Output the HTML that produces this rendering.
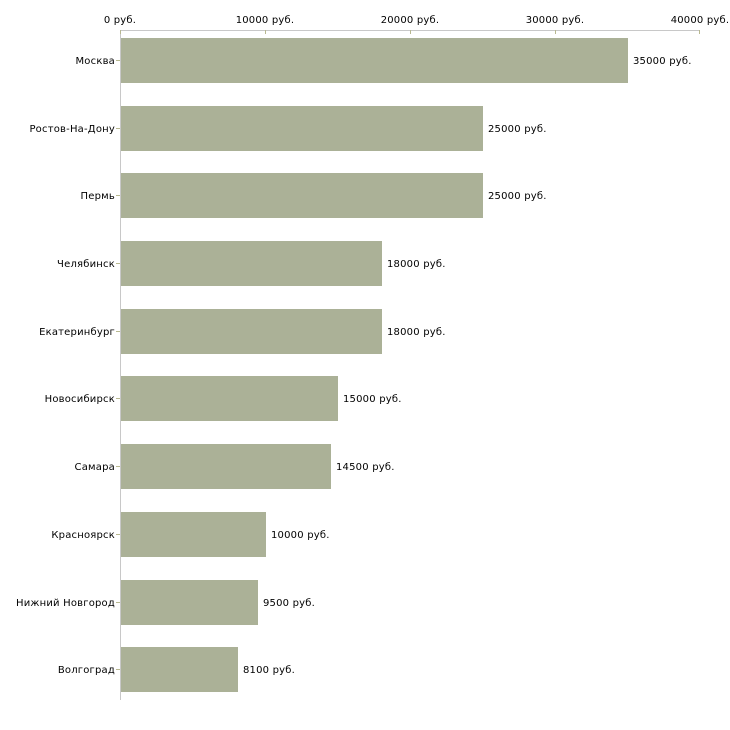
<!DOCTYPE html>
<html><head><meta charset="utf-8"><style>body{margin:0;background:#fff}svg{display:block}text{font-family:"DejaVu Sans","Liberation Sans",sans-serif;font-size:10px;fill:#000;letter-spacing:0.2px}</style></head><body>
<svg width="730" height="730" viewBox="0 0 730 730">
<line x1="120" y1="30.5" x2="700" y2="30.5" stroke="#c8c8c8"/>
<line x1="120.5" y1="30" x2="120.5" y2="700" stroke="#c8c8c8"/>
<g stroke="#b8b890">
<line x1="120.5" y1="30" x2="120.5" y2="34"/><line x1="265.5" y1="30" x2="265.5" y2="34"/><line x1="410.5" y1="30" x2="410.5" y2="34"/><line x1="555.5" y1="30" x2="555.5" y2="34"/><line x1="699.5" y1="30" x2="699.5" y2="34"/>
</g>
<g text-anchor="middle">
<text x="120" y="23">0 руб.</text><text x="265" y="23">10000 руб.</text><text x="410" y="23">20000 руб.</text><text x="555" y="23">30000 руб.</text><text x="700" y="23">40000 руб.</text>
</g>
<g fill="#abb197">
<rect x="121" y="38" width="507" height="45"/>
<rect x="121" y="106" width="362" height="45"/>
<rect x="121" y="173" width="362" height="45"/>
<rect x="121" y="241" width="261" height="45"/>
<rect x="121" y="309" width="261" height="45"/>
<rect x="121" y="376" width="217" height="45"/>
<rect x="121" y="444" width="210" height="45"/>
<rect x="121" y="512" width="145" height="45"/>
<rect x="121" y="580" width="137" height="45"/>
<rect x="121" y="647" width="117" height="45"/>
</g>
<g stroke="#b8b890">
<line x1="116" y1="60.5" x2="120" y2="60.5"/><line x1="116" y1="128.5" x2="120" y2="128.5"/><line x1="116" y1="195.5" x2="120" y2="195.5"/><line x1="116" y1="263.5" x2="120" y2="263.5"/><line x1="116" y1="331.5" x2="120" y2="331.5"/><line x1="116" y1="398.5" x2="120" y2="398.5"/><line x1="116" y1="466.5" x2="120" y2="466.5"/><line x1="116" y1="534.5" x2="120" y2="534.5"/><line x1="116" y1="602.5" x2="120" y2="602.5"/><line x1="116" y1="669.5" x2="120" y2="669.5"/>
</g>
<g text-anchor="end">
<text x="115" y="64">Москва</text><text x="115" y="132">Ростов-На-Дону</text><text x="115" y="199">Пермь</text><text x="115" y="267">Челябинск</text><text x="115" y="335">Екатеринбург</text><text x="115" y="402">Новосибирск</text><text x="115" y="470">Самара</text><text x="115" y="538">Красноярск</text><text x="115" y="606">Нижний Новгород</text><text x="115" y="673">Волгоград</text>
</g>
<g>
<text x="633" y="64">35000 руб.</text><text x="488" y="132">25000 руб.</text><text x="488" y="199">25000 руб.</text><text x="387" y="267">18000 руб.</text><text x="387" y="335">18000 руб.</text><text x="343" y="402">15000 руб.</text><text x="336" y="470">14500 руб.</text><text x="271" y="538">10000 руб.</text><text x="263" y="606">9500 руб.</text><text x="243" y="673">8100 руб.</text>
</g>
</svg>
</body></html>
